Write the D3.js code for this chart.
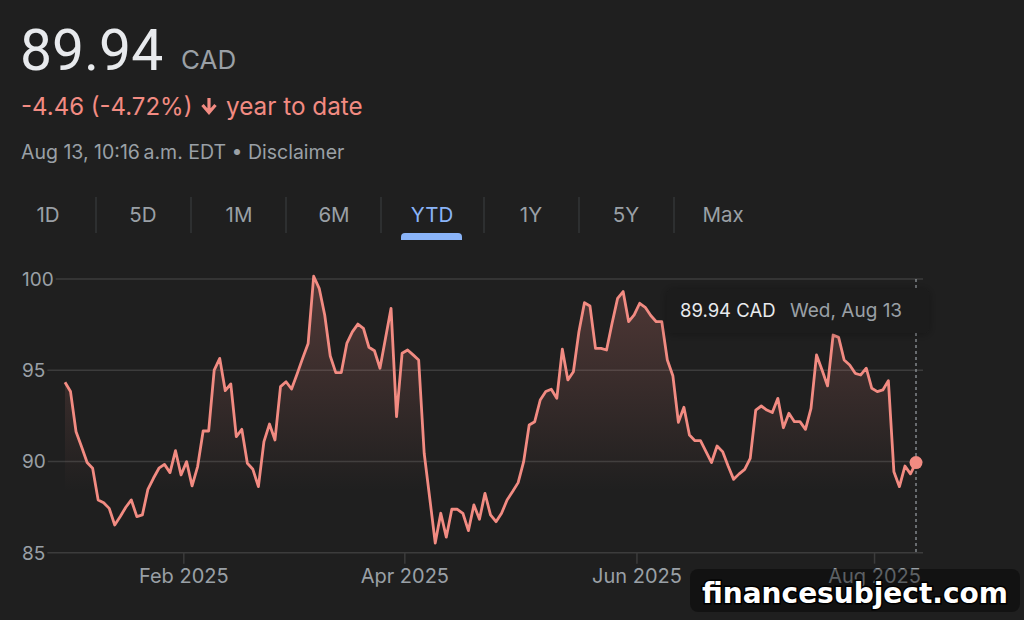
<!DOCTYPE html>
<html>
<head>
<meta charset="utf-8">
<script src="https://cdn.jsdelivr.net/npm/d3@7"></script>
<style>
  body { margin: 0; background: #1f1f1f; }
  svg { display: block; font-family: Inter, Roboto, "Noto Sans", sans-serif; }
</style>
</head>
<body>
<svg id="chart" width="1024" height="620"></svg>
<script>
// closing prices, one per TSX trading day, Jan 2 -> Aug 13 2025
var prices = [
  94.34, 93.83, 91.63, 90.81, 89.94, 89.63, 87.89, 87.74, 87.43, 86.52,
  86.98, 87.49, 87.89, 86.98, 87.07, 88.47, 89.08, 89.63, 89.84, 89.39,
  90.59, 89.26, 89.99, 88.66, 89.72, 91.67, 91.67, 95.01, 95.65, 93.88,
  94.25, 91.36, 91.76, 89.90, 89.57, 88.62, 91.09, 92.05, 91.18, 94.10,
  94.37, 93.97, 94.79, 95.65, 96.47, 100.15, 99.49, 98.03, 95.78, 94.87,
  94.87, 96.47, 97.10, 97.53, 97.30, 96.26, 96.07, 95.11, 96.75, 98.39,
  92.46, 95.93, 96.11, 95.84, 95.56, 90.45, 88.00, 85.53, 87.16, 85.85,
  87.38, 87.38, 87.16, 86.21, 87.62, 86.83, 88.25, 87.07, 86.70, 87.16,
  87.89, 88.35, 88.84, 89.99, 92.00, 92.18, 93.37, 93.83, 93.96, 93.46,
  96.15, 94.47, 94.92, 97.11, 98.70, 98.52, 96.20, 96.20, 96.11, 97.57,
  98.94, 99.31, 97.66, 98.03, 98.67, 98.45, 98.00, 97.66, 97.66, 95.56,
  94.70, 92.15, 92.97, 91.45, 91.14, 91.14, 90.54, 89.94, 90.85, 90.54,
  89.75, 89.02, 89.32, 89.57, 90.17, 92.82, 93.04, 92.82, 92.68, 93.46,
  91.85, 92.64, 92.18, 92.18, 91.76, 92.91, 95.84, 95.01, 94.14, 96.93,
  96.80, 95.56, 95.29, 94.83, 94.74, 95.11, 94.01, 93.83, 93.92, 94.43,
  89.44, 88.62, 89.75, 89.32, 89.94
];

var yTicks = [85, 90, 95, 100];
var monthLabels = ["Feb 2025", "Apr 2025", "Jun 2025", "Aug 2025"];
var monthFirstDay = [22, 62, 104, 147];   // index of first trading day in that month
var tabs = ["1D", "5D", "1M", "6M", "YTD", "1Y", "5Y", "Max"];
var selectedTab = "YTD";

var lastPrice = 89.94, change = -4.46, changePct = -4.72;
var lastDate = "Wed, Aug 13";

var red = "#f28b82", grey = "#9aa0a6";

var svg = d3.select("#chart");

// ---- header ----
svg.append("text")
  .attr("x", 20).attr("y", 70)
  .attr("fill", "#e8eaed")
  .style("font-family", "Roboto, sans-serif")
  .style("font-size", "57px")
  .text(lastPrice.toFixed(2));

svg.append("text")
  .attr("x", 181).attr("y", 69)
  .attr("fill", grey)
  .style("font-size", "26px")
  .text("CAD");

svg.append("text")
  .attr("x", 21).attr("y", 115)
  .attr("fill", red)
  .style("font-size", "24px")
  .text(change.toFixed(2) + " (" + changePct.toFixed(2) + "%)");

// down arrow icon
svg.append("path")
  .attr("d", "M209,98 v13 M202.5,105 l6.5,7.5 l6.5,-7.5")
  .attr("stroke", red)
  .attr("stroke-width", 3.2)
  .attr("fill", "none");

svg.append("text")
  .attr("x", 226).attr("y", 115)
  .attr("fill", red)
  .style("font-size", "24.3px")
  .text("year to date");

svg.append("text")
  .attr("x", 21).attr("y", 159)
  .attr("fill", grey)
  .style("font-size", "19.5px")
  .text("Aug 13, 10:16\u2009a.m. EDT \u2022 Disclaimer");

// ---- range tabs ----
var tabCenters = [48, 143, 239, 334, 432, 531, 626, 723];

svg.selectAll(".tab")
  .data(tabs).enter()
  .append("text")
  .attr("class", "tab")
  .attr("x", function(d, i) { return tabCenters[i]; })
  .attr("y", 222)
  .attr("text-anchor", "middle")
  .style("font-size", "20.5px")
  .attr("fill", function(d) { return d == selectedTab ? "#8ab4f8" : grey; })
  .text(function(d) { return d; });

var sepX = [96, 191, 286, 381, 484, 579, 674];
svg.selectAll(".sep")
  .data(sepX).enter()
  .append("line")
  .attr("x1", function(d) { return d; })
  .attr("x2", function(d) { return d; })
  .attr("y1", 197).attr("y2", 233)
  .attr("stroke", "#3c4043")
  .attr("stroke-width", 1);

svg.append("path")
  .attr("d", "M401,240 v-3 a4,4 0 0 1 4,-4 h53 a4,4 0 0 1 4,4 v3 z")
  .attr("fill", "#8ab4f8");

// ---- chart ----
var x = d3.scaleLinear().domain([0, prices.length - 1]).range([65, 916]);
var y = d3.scaleLinear().domain([85, 100]).range([552.7, 279]);
var plotRight = 923;

var defs = svg.append("defs");
var grad = defs.append("linearGradient")
  .attr("id", "fillGrad")
  .attr("gradientUnits", "userSpaceOnUse")
  .attr("x1", 0).attr("x2", 0)
  .attr("y1", y(100)).attr("y2", 492);
grad.append("stop").attr("offset", 0).attr("stop-color", red).attr("stop-opacity", 0.24);
grad.append("stop").attr("offset", 1).attr("stop-color", red).attr("stop-opacity", 0);

var shadow = defs.append("filter").attr("id", "shadow")
  .attr("x", -0.2).attr("y", -0.5).attr("width", 1.4).attr("height", 2);
shadow.append("feDropShadow")
  .attr("dx", 0).attr("dy", 1).attr("stdDeviation", 5)
  .attr("flood-color", "#000").attr("flood-opacity", 0.3);

// y labels + gridlines
var yLab = svg.selectAll(".ylab")
  .data(yTicks).enter()
  .append("text")
  .attr("class", "ylab")
  .attr("x", 22)
  .attr("y", function(d) { return y(d); })
  .attr("dy", "0.36em")
  .style("font-size", "19px")
  .attr("fill", grey)
  .text(function(d) { return d; });

yLab.each(function(d) {
  var bb = this.getBBox();
  svg.append("line")
    .attr("x1", bb.x + bb.width + 2)
    .attr("x2", plotRight)
    .attr("y1", y(d)).attr("y2", y(d))
    .attr("stroke", "#3c3c3c")
    .attr("stroke-width", 1.5);
});

// x ticks
svg.selectAll(".xtick")
  .data(monthFirstDay).enter()
  .append("line")
  .attr("x1", function(d) { return x(d - 0.5); })
  .attr("x2", function(d) { return x(d - 0.5); })
  .attr("y1", y(85)).attr("y2", y(85) + 11)
  .attr("stroke", "#3c3c3c")
  .attr("stroke-width", 1.5);

svg.selectAll(".xlab")
  .data(monthLabels).enter()
  .append("text")
  .attr("x", function(d, i) { return x(monthFirstDay[i] - 0.5); })
  .attr("y", 583)
  .attr("text-anchor", "middle")
  .style("font-size", "20px")
  .attr("fill", grey)
  .text(function(d) { return d; });

// area + line
var area = d3.area()
  .x(function(d, i) { return x(i); })
  .y0(y(85))
  .y1(function(d) { return y(d); });

var line = d3.line()
  .x(function(d, i) { return x(i); })
  .y(function(d) { return y(d); });

svg.append("path")
  .datum(prices)
  .attr("d", area)
  .attr("fill", "url(#fillGrad)");

svg.append("path")
  .datum(prices)
  .attr("d", line)
  .attr("fill", "none")
  .attr("stroke", red)
  .attr("stroke-width", 2.8)
  .attr("stroke-linejoin", "round");

// hover marker
var lastI = prices.length - 1;
svg.append("line")
  .attr("x1", x(lastI)).attr("x2", x(lastI))
  .attr("y1", y(100)).attr("y2", y(85))
  .attr("stroke", grey)
  .attr("stroke-width", 1.2)
  .attr("stroke-dasharray", "3,3");

svg.append("circle")
  .attr("cx", x(lastI)).attr("cy", y(prices[lastI]))
  .attr("r", 6.5)
  .attr("fill", red);

// tooltip
var tip = svg.append("g");
tip.append("rect")
  .attr("x", 667).attr("y", 289)
  .attr("width", 262).attr("height", 44)
  .attr("rx", 4)
  .attr("fill", "#1b1b1b")
  .attr("filter", "url(#shadow)");
tip.append("text")
  .attr("x", 680).attr("y", 317)
  .attr("fill", "#e8eaed")
  .style("font-size", "18.5px")
  .text(lastPrice.toFixed(2) + " CAD");
tip.append("text")
  .attr("x", 790).attr("y", 317)
  .attr("fill", grey)
  .style("font-size", "19px")
  .text(lastDate);

// watermark (semi transparent, axis label shows through like the original)
svg.append("rect")
  .attr("x", 690).attr("y", 569)
  .attr("width", 330).attr("height", 43)
  .attr("rx", 8)
  .attr("fill", "#000")
  .attr("fill-opacity", 0.4);
svg.append("text")
  .attr("x", 855).attr("y", 603)
  .attr("text-anchor", "middle")
  .attr("fill", "#fff")
  .style("font-family", "'DejaVu Sans', sans-serif")
  .style("font-weight", "bold")
  .style("font-size", "28px")
  .style("paint-order", "stroke")
  .attr("stroke", "#000")
  .attr("stroke-width", 3)
  .text("financesubject.com");
</script>
</body>
</html>
